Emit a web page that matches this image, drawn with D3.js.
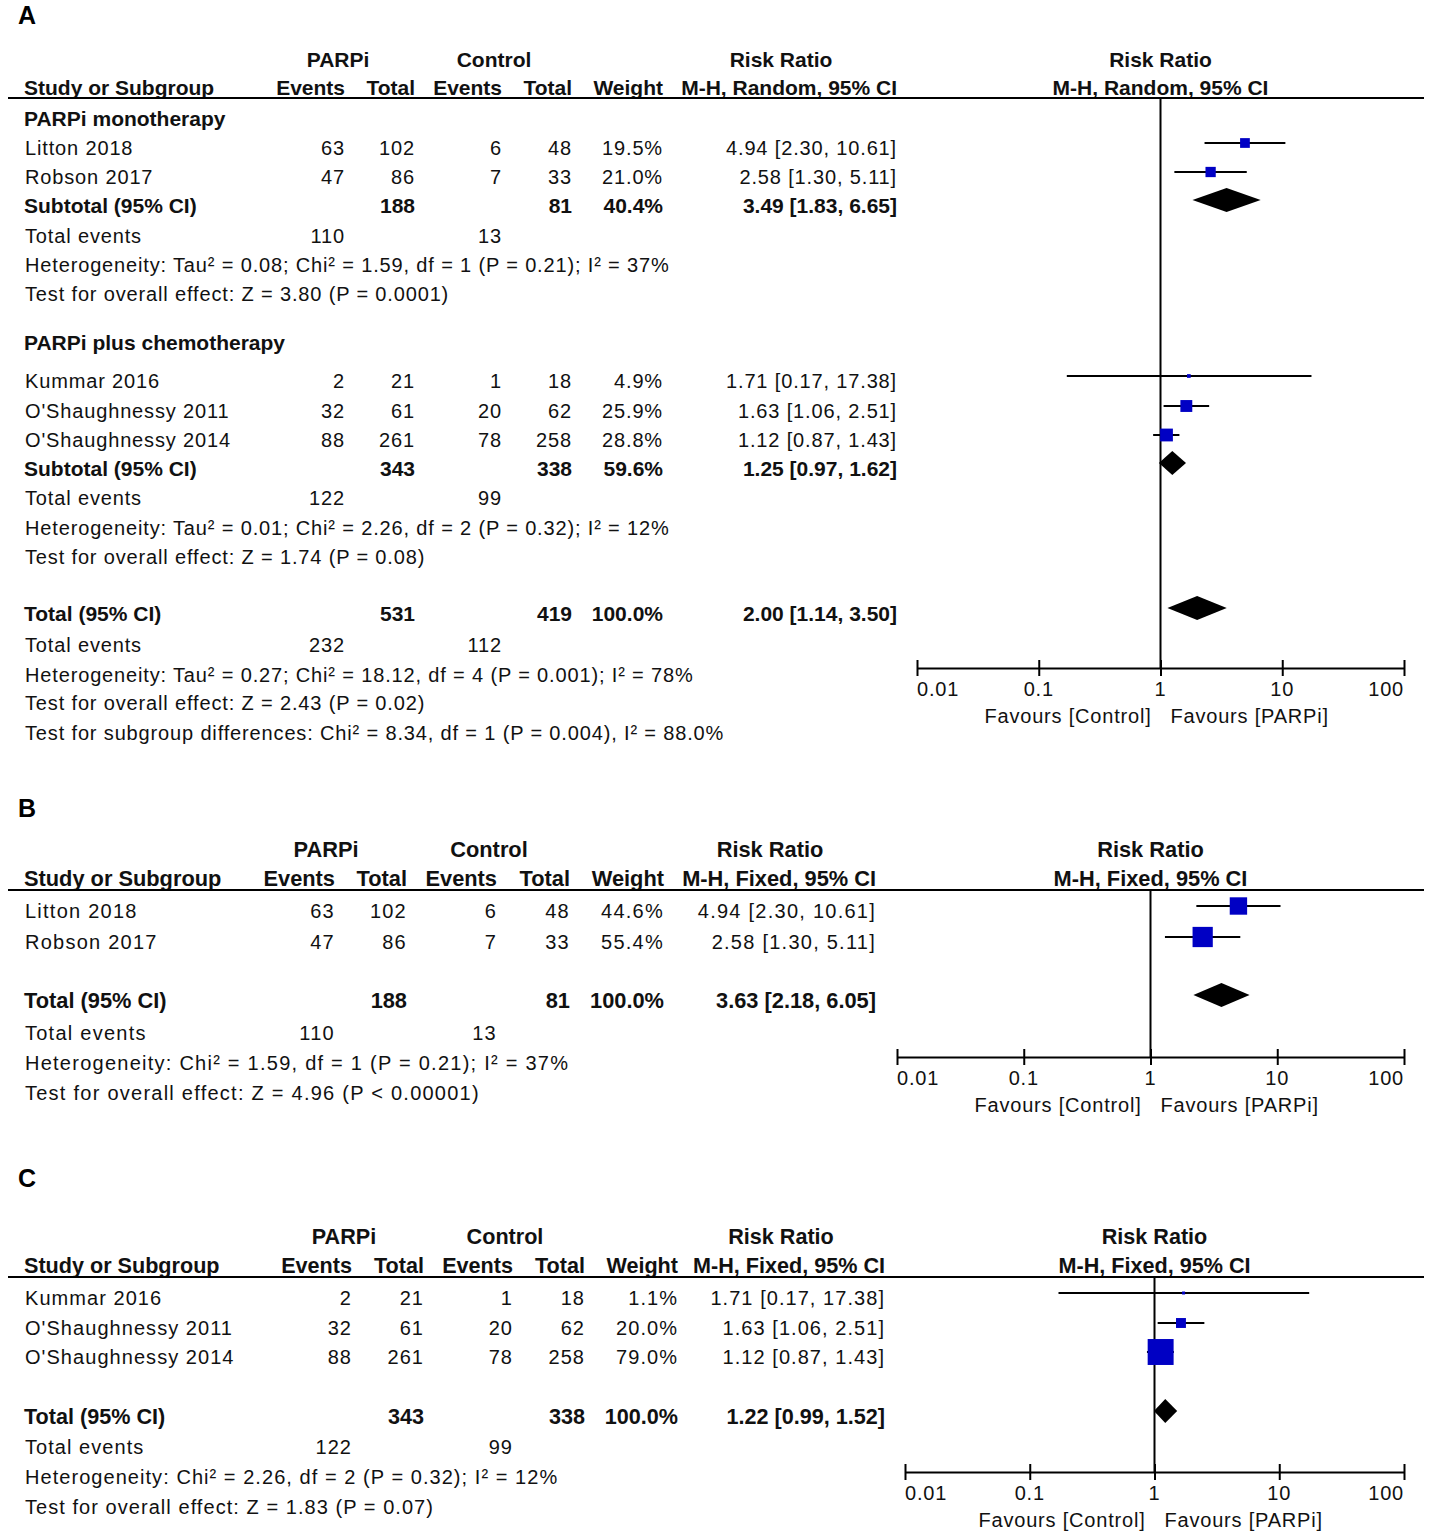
<!DOCTYPE html>
<html>
<head>
<meta charset="utf-8">
<script src="https://cdn.jsdelivr.net/npm/d3@7/dist/d3.min.js"></script>
<style>
  html, body { margin: 0; padding: 0; background: #fff; }
  svg { display: block; }
</style>
</head>
<body>
<svg id="chart" width="1431" height="1540"></svg>
<script>
// ---------------- DATA ----------------
// Panel A, subgroup 1: PARPi monotherapy (random effects)
const monoStudies      = ["Litton 2018", "Robson 2017"];
const monoParpEvents   = [63, 47];
const monoParpTotal    = [102, 86];
const monoCtrlEvents   = [6, 7];
const monoCtrlTotal    = [48, 33];
const monoWeightRandom = [19.5, 21.0];
const monoRR           = [4.94, 2.58];
const monoLo           = [2.30, 1.30];
const monoHi           = [10.61, 5.11];

// Panel A, subgroup 2: PARPi plus chemotherapy (random effects)
const chemoStudies      = ["Kummar 2016", "O'Shaughnessy 2011", "O'Shaughnessy 2014"];
const chemoParpEvents   = [2, 32, 88];
const chemoParpTotal    = [21, 61, 261];
const chemoCtrlEvents   = [1, 20, 78];
const chemoCtrlTotal    = [18, 62, 258];
const chemoWeightRandom = [4.9, 25.9, 28.8];
const chemoRR           = [1.71, 1.63, 1.12];
const chemoLo           = [0.17, 1.06, 0.87];
const chemoHi           = [17.38, 2.51, 1.43];

// Fixed-effect weights (panels B and C)
const monoWeightFixed  = [44.6, 55.4];
const chemoWeightFixed = [1.1, 20.0, 79.0];

// Summaries: [parpTotal, ctrlTotal, weight, rr, lo, hi, parpEvents, ctrlEvents]
const summaryMonoRandom  = [188, 81, 40.4, 3.49, 1.83, 6.65, 110, 13];
const summaryChemoRandom = [343, 338, 59.6, 1.25, 0.97, 1.62, 122, 99];
const summaryAllRandom   = [531, 419, 100.0, 2.00, 1.14, 3.50, 232, 112];
const summaryMonoFixed   = [188, 81, 100.0, 3.63, 2.18, 6.05, 110, 13];
const summaryChemoFixed  = [343, 338, 100.0, 1.22, 0.99, 1.52, 122, 99];

// Statistic notes
const notesMonoRandom = [
  "Heterogeneity: Tau\u00B2 = 0.08; Chi\u00B2 = 1.59, df = 1 (P = 0.21); I\u00B2 = 37%",
  "Test for overall effect: Z = 3.80 (P = 0.0001)"];
const notesChemoRandom = [
  "Heterogeneity: Tau\u00B2 = 0.01; Chi\u00B2 = 2.26, df = 2 (P = 0.32); I\u00B2 = 12%",
  "Test for overall effect: Z = 1.74 (P = 0.08)"];
const notesAllRandom = [
  "Heterogeneity: Tau\u00B2 = 0.27; Chi\u00B2 = 18.12, df = 4 (P = 0.001); I\u00B2 = 78%",
  "Test for overall effect: Z = 2.43 (P = 0.02)",
  "Test for subgroup differences: Chi\u00B2 = 8.34, df = 1 (P = 0.004), I\u00B2 = 88.0%"];
const notesMonoFixed = [
  "Heterogeneity: Chi\u00B2 = 1.59, df = 1 (P = 0.21); I\u00B2 = 37%",
  "Test for overall effect: Z = 4.96 (P < 0.00001)"];
const notesChemoFixed = [
  "Heterogeneity: Chi\u00B2 = 2.26, df = 2 (P = 0.32); I\u00B2 = 12%",
  "Test for overall effect: Z = 1.83 (P = 0.07)"];

// Labels
const groupLabels   = ["PARPi monotherapy", "PARPi plus chemotherapy"];
const headerTop     = ["PARPi", "Control", "Risk Ratio"];
const headerBottom  = ["Study or Subgroup", "Events", "Total", "Events", "Total", "Weight"];
const methodRandom  = "M-H, Random, 95% CI";
const methodFixed   = "M-H, Fixed, 95% CI";
const tickValues    = [0.01, 0.1, 1, 10, 100];
const tickLabels    = ["0.01", "0.1", "1", "10", "100"];
const favourLabels  = ["Favours [Control]", "Favours [PARPi]"];
const panelLetters  = ["A", "B", "C"];

// ---------------- DRAWING ----------------
const svg = d3.select("#chart");
const FONT = "'Liberation Sans', Arial, Helvetica, sans-serif";
const INK = "#111";
const BLUE = "#0000c4";
const sizeScale = d3.scalePow().exponent(0.7).domain([0, 100]).range([0, 30.6]);

let CUR = {ls: 0.8, bold: 21, boldLs: 0.1};

function txt(g, x, y, s, opt = {}) {
  const t = g.append("text")
    .attr("x", x).attr("y", y).attr("dy", "0.36em")
    .attr("text-anchor", opt.anchor || "start")
    .attr("font-family", FONT)
    .attr("font-size", opt.bold ? CUR.bold : 20)
    .attr("font-weight", opt.bold ? "bold" : "normal")
    .attr("fill", INK)
    .attr("letter-spacing", opt.bold ? CUR.boldLs : CUR.ls)
    .text(s);
  return t;
}

const fmt2 = d3.format(".2f");
const fmt1 = d3.format(".1f");
const ciText = (rr, lo, hi) => `${fmt2(rr)} [${fmt2(lo)}, ${fmt2(hi)}]`;

function makeStudies(names, pe, pt, ce, ct, w, rr, lo, hi) {
  return names.map((n, i) => ({kind: "study", name: n, pe: pe[i], pt: pt[i], ce: ce[i], ct: ct[i],
    w: w[i], rr: rr[i], lo: lo[i], hi: hi[i]}));
}
function makeSummary(label, s) {
  return {kind: "summary", name: label, pt: s[0], ct: s[1], w: s[2], rr: s[3], lo: s[4], hi: s[5]};
}
function makeEvents(s) { return {kind: "events", pe: s[6], ce: s[7]}; }

function drawPanel(p) {
  CUR = p.font;
  const g = svg.append("g");
  const c = p.cols;
  // letter
  g.append("text").attr("x", p.letterX).attr("y", p.letterY).attr("dy", "0.36em")
    .attr("font-family", FONT).attr("font-weight", "bold").attr("font-size", 25)
    .attr("fill", "#000").text(p.letter);
  // headers
  txt(g, c.parpCenter, p.h1, headerTop[0], {bold: true, anchor: "middle"});
  txt(g, c.ctrlCenter, p.h1, headerTop[1], {bold: true, anchor: "middle"});
  txt(g, c.rrCenter, p.h1, headerTop[2], {bold: true, anchor: "middle"});
  txt(g, c.label, p.h2, headerBottom[0], {bold: true});
  txt(g, c.pe, p.h2, headerBottom[1], {bold: true, anchor: "end"});
  txt(g, c.pt, p.h2, headerBottom[2], {bold: true, anchor: "end"});
  txt(g, c.ce, p.h2, headerBottom[3], {bold: true, anchor: "end"});
  txt(g, c.ct, p.h2, headerBottom[4], {bold: true, anchor: "end"});
  txt(g, c.w, p.h2, headerBottom[5], {bold: true, anchor: "end"});
  txt(g, c.ci, p.h2, p.method, {bold: true, anchor: "end"});

  const x = d3.scaleLog().domain([0.01, 100]).range(p.forestRange);
  const x1 = x(1);
  txt(g, x1, p.h1, headerTop[2], {bold: true, anchor: "middle"});
  txt(g, x1, p.h2, p.method, {bold: true, anchor: "middle"});

  // header rule
  g.append("line").attr("x1", 8).attr("x2", 1424).attr("y1", p.rule).attr("y2", p.rule)
    .attr("stroke", "#000").attr("stroke-width", 2);

  // line of no effect
  g.append("line").attr("x1", x1).attr("x2", x1).attr("y1", p.rule).attr("y2", p.axisY)
    .attr("stroke", "#000").attr("stroke-width", 2);

  // rows
  p.rows.forEach(r => {
    const y = r.y;
    const my = y - 5;
    if (r.kind === "group") {
      txt(g, c.label, y, r.name, {bold: true});
    } else if (r.kind === "study") {
      txt(g, c.label + 1, y, r.name);
      txt(g, c.pe, y, r.pe, {anchor: "end"});
      txt(g, c.pt, y, r.pt, {anchor: "end"});
      txt(g, c.ce, y, r.ce, {anchor: "end"});
      txt(g, c.ct, y, r.ct, {anchor: "end"});
      txt(g, c.w, y, fmt1(r.w) + "%", {anchor: "end"});
      txt(g, c.ci, y, ciText(r.rr, r.lo, r.hi), {anchor: "end"});
      g.append("line").attr("x1", x(r.lo)).attr("x2", x(r.hi)).attr("y1", my).attr("y2", my)
        .attr("stroke", "#000").attr("stroke-width", 2);
      const s = Math.max(3, sizeScale(r.w));
      g.append("rect").attr("x", x(r.rr) - s / 2).attr("y", my - s / 2)
        .attr("width", s).attr("height", s).attr("fill", BLUE);
    } else if (r.kind === "summary") {
      txt(g, c.label, y, r.name, {bold: true});
      txt(g, c.pt, y, r.pt, {bold: true, anchor: "end"});
      txt(g, c.ct, y, r.ct, {bold: true, anchor: "end"});
      txt(g, c.w, y, fmt1(r.w) + "%", {bold: true, anchor: "end"});
      txt(g, c.ci, y, ciText(r.rr, r.lo, r.hi), {bold: true, anchor: "end"});
      const h = 12;
      const pts = [[x(r.lo), my], [x(r.rr), my - h], [x(r.hi), my], [x(r.rr), my + h]];
      g.append("path").attr("d", d3.line()(pts) + "Z").attr("fill", "#000");
    } else if (r.kind === "events") {
      txt(g, c.label + 1, y, "Total events");
      txt(g, c.pe, y, r.pe, {anchor: "end"});
      txt(g, c.ce, y, r.ce, {anchor: "end"});
    } else if (r.kind === "note") {
      txt(g, c.label + 1, y, r.text);
    }
  });

  // axis
  const axis = d3.axisBottom(x).tickValues(tickValues).tickFormat("").tickSize(7).tickSizeOuter(0);
  const ag = g.append("g").attr("transform", `translate(0,${p.axisY})`).call(axis);
  ag.select(".domain").attr("stroke", "#000").attr("stroke-width", 2);
  ag.selectAll(".tick line").attr("stroke", "#000").attr("stroke-width", 2).attr("y1", -8).attr("y2", 8);
  CUR = Object.assign({}, p.font, {ls: 0.8});
  tickValues.forEach((v, i) => {
    const anchor = i === 0 ? "start" : (i === tickValues.length - 1 ? "end" : "middle");
    txt(g, x(v), p.axisY + 21, tickLabels[i], {anchor: anchor});
  });
  txt(g, x1 - 9, p.axisY + 48, favourLabels[0], {anchor: "end"});
  txt(g, x1 + 10, p.axisY + 48, favourLabels[1], {anchor: "start"});
}

// ---- Panel A ----
const monoA = makeStudies(monoStudies, monoParpEvents, monoParpTotal, monoCtrlEvents, monoCtrlTotal,
  monoWeightRandom, monoRR, monoLo, monoHi);
const chemoA = makeStudies(chemoStudies, chemoParpEvents, chemoParpTotal, chemoCtrlEvents, chemoCtrlTotal,
  chemoWeightRandom, chemoRR, chemoLo, chemoHi);
const rowsA = [];
const yA = [118, 148, 177, 205, 236, 265, 294, 342, 381, 411, 440, 468, 498, 528, 557, 613, 645, 675, 703, 733];
rowsA.push({kind: "group", name: groupLabels[0]});
monoA.forEach(s => rowsA.push(s));
rowsA.push(makeSummary("Subtotal (95% CI)", summaryMonoRandom));
rowsA.push(makeEvents(summaryMonoRandom));
notesMonoRandom.forEach(t => rowsA.push({kind: "note", text: t}));
rowsA.push({kind: "group", name: groupLabels[1]});
chemoA.forEach(s => rowsA.push(s));
rowsA.push(makeSummary("Subtotal (95% CI)", summaryChemoRandom));
rowsA.push(makeEvents(summaryChemoRandom));
notesChemoRandom.forEach(t => rowsA.push({kind: "note", text: t}));
rowsA.push(makeSummary("Total (95% CI)", summaryAllRandom));
rowsA.push(makeEvents(summaryAllRandom));
notesAllRandom.forEach(t => rowsA.push({kind: "note", text: t}));
rowsA.forEach((r, i) => r.y = yA[i]);

drawPanel({
  letter: panelLetters[0], letterX: 18, letterY: 15,
  h1: 59, h2: 87, rule: 98, axisY: 668, method: methodRandom,
  font: {ls: 0.85, bold: 21, boldLs: 0},
  forestRange: [917, 1404],
  cols: {label: 24, pe: 345, pt: 415, ce: 502, ct: 572, w: 663, ci: 897,
         parpCenter: 338, ctrlCenter: 494, rrCenter: 781},
  rows: rowsA
});

// ---- Panel B ----
const monoB = makeStudies(monoStudies, monoParpEvents, monoParpTotal, monoCtrlEvents, monoCtrlTotal,
  monoWeightFixed, monoRR, monoLo, monoHi);
const rowsB = [];
const yB = [911, 942, 1000, 1033, 1063, 1093];
monoB.forEach(s => rowsB.push(s));
rowsB.push(makeSummary("Total (95% CI)", summaryMonoFixed));
rowsB.push(makeEvents(summaryMonoFixed));
notesMonoFixed.forEach(t => rowsB.push({kind: "note", text: t}));
rowsB.forEach((r, i) => r.y = yB[i]);

drawPanel({
  letter: panelLetters[1], letterX: 18, letterY: 808,
  h1: 849, h2: 878, rule: 890, axisY: 1057, method: methodFixed,
  font: {ls: 1.25, bold: 21.8, boldLs: 0},
  forestRange: [897, 1404],
  cols: {label: 24, pe: 335, pt: 407, ce: 497, ct: 570, w: 664, ci: 876,
         parpCenter: 326, ctrlCenter: 489, rrCenter: 770},
  rows: rowsB
});

// ---- Panel C ----
const chemoC = makeStudies(chemoStudies, chemoParpEvents, chemoParpTotal, chemoCtrlEvents, chemoCtrlTotal,
  chemoWeightFixed, chemoRR, chemoLo, chemoHi);
const rowsC = [];
const yC = [1298, 1328, 1357, 1416, 1447, 1477, 1507];
chemoC.forEach(s => rowsC.push(s));
rowsC.push(makeSummary("Total (95% CI)", summaryChemoFixed));
rowsC.push(makeEvents(summaryChemoFixed));
notesChemoFixed.forEach(t => rowsC.push({kind: "note", text: t}));
rowsC.forEach((r, i) => r.y = yC[i]);

drawPanel({
  letter: panelLetters[2], letterX: 18, letterY: 1178,
  h1: 1236, h2: 1265, rule: 1277, axisY: 1472, method: methodFixed,
  font: {ls: 1.05, bold: 21.6, boldLs: 0},
  forestRange: [905, 1404],
  cols: {label: 24, pe: 352, pt: 424, ce: 513, ct: 585, w: 678, ci: 885,
         parpCenter: 344, ctrlCenter: 505, rrCenter: 781},
  rows: rowsC
});
</script>
</body>
</html>
